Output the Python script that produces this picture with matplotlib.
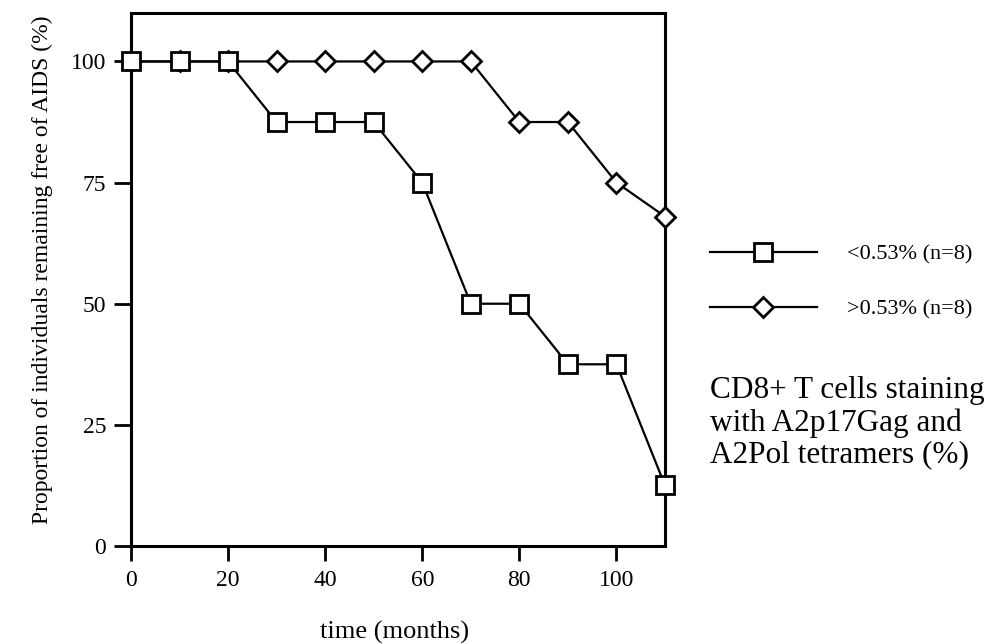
import matplotlib
matplotlib.use("Agg")
import matplotlib.pyplot as plt

# survival data (months, % AIDS free)
months = [0, 10, 20, 30, 40, 50, 60, 70, 80, 90, 100, 110]
low_tetramer = [100, 100, 100, 87.5, 87.5, 87.5, 75, 50, 50, 37.5, 37.5, 12.5]
high_tetramer = [100, 100, 100, 100, 100, 100, 100, 100, 87.5, 87.5, 75, 68]

low_label = "<0.53% (n=8)"
high_label = ">0.53% (n=8)"
x_ticks = [0, 20, 40, 60, 80, 100]
y_ticks = [0, 25, 50, 75, 100]

plt.rcParams["font.family"] = ["Liberation Serif", "DejaVu Serif"]

fig = plt.figure(figsize=(9.91, 6.44), dpi=100)
ax = fig.add_axes([131 / 991, 1 - 546 / 644, 534 / 991, 533 / 644])

# diamonds first so the squares sit on top where they overlap
h_high, = ax.plot(months, high_tetramer, "-", color="black", linewidth=1.6,
                  marker="D", markersize=10, markerfacecolor="white",
                  markeredgecolor="black", markeredgewidth=2.0,
                  clip_on=False, zorder=3)
h_low, = ax.plot(months, low_tetramer, "-", color="black", linewidth=1.6,
                 marker="s", markersize=12.5, markerfacecolor="white",
                 markeredgecolor="black", markeredgewidth=2.0,
                 clip_on=False, zorder=4)

ax.set_xlim(0, 110)
ax.set_ylim(0, 110)
ax.set_xticks(x_ticks)
ax.set_yticks(y_ticks)
ax.tick_params(axis="both", direction="out", width=2, labelsize=17, pad=6)
ax.tick_params(axis="x", length=11)
ax.tick_params(axis="y", length=12)
for sp in ax.spines.values():
    sp.set_linewidth(2.2)

fig.text(42 / 991, 1 - 270 / 644,
         "Proportion of individuals remaining free of AIDS (%)",
         rotation=90, ha="center", va="center", fontsize=17)
fig.text(395 / 991, 1 - 632 / 644, "time (months)",
         ha="center", va="center", fontsize=19)

fig.legend([h_low, h_high], [low_label, high_label],
           loc="upper left", bbox_to_anchor=(710 / 991, 1 - 244 / 644),
           frameon=False, borderpad=0, borderaxespad=0, fontsize=16,
           handlelength=4.8, handletextpad=1.35, labelspacing=1.55,
           numpoints=1)

fig.text(710 / 991, 1 - 423 / 644,
         "CD8+ T cells staining\nwith A2p17Gag and\nA2Pol tetramers (%)",
         ha="left", va="center", fontsize=22.5, linespacing=1.13)

fig.savefig("out.png", dpi=100)
